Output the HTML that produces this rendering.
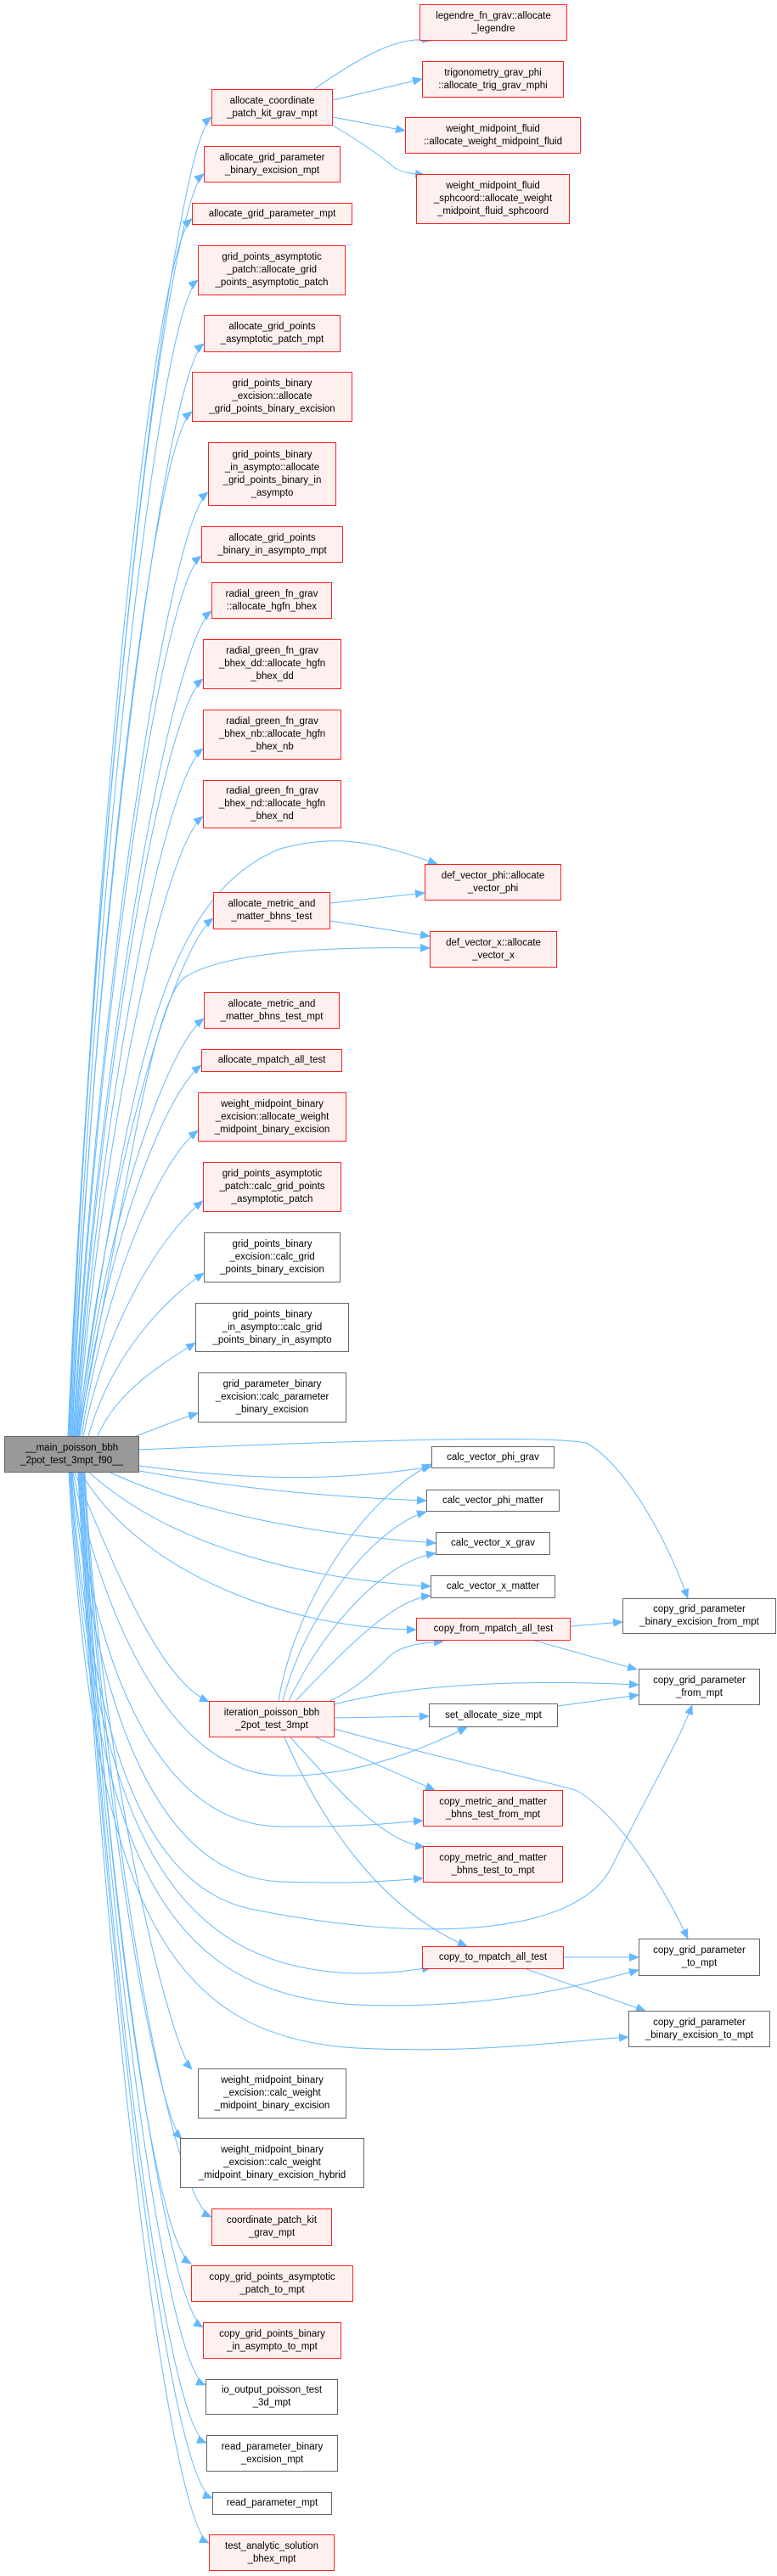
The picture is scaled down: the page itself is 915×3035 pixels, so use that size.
<!DOCTYPE html>
<html><head><meta charset="utf-8"><style>
html,body{margin:0;padding:0;background:#fff;}
#c{position:relative;width:915px;height:3035px;overflow:hidden;}
svg{position:absolute;left:0;top:0;}
.n{position:absolute;box-sizing:border-box;display:flex;align-items:center;justify-content:center;text-align:center;font-family:"Liberation Sans",sans-serif;font-size:11.5px;line-height:15px;color:#000;}
.r{background:#fff0f0;border:1.5px solid #ff2020;}
.w{background:#fff;border:1.5px solid #666;}
.g{background:#999;border:1.5px solid #666;}
</style></head><body><div id="c">
<svg width="915" height="3035" viewBox="0 0 915 3035">
<defs><marker id="a" markerWidth="12" markerHeight="10" refX="11" refY="5" orient="auto" markerUnits="userSpaceOnUse"><path d="M0,0 L12,5 L0,10 Z" fill="#63b8ff"/></marker></defs>
<g fill="none" stroke="#63b8ff" stroke-width="1" marker-end="url(#a)">
<path d="M80,1692 C113.8,915 204,173 249,138"/>
<path d="M81,1692 C112.8,948 195,240 240,205"/>
<path d="M82,1692 C110.8,975 181,293 226,258"/>
<path d="M83,1692 C113,1011 188,365 233,330"/>
<path d="M84,1692 C115,1048 195,440 240,405"/>
<path d="M85,1692 C113,1088 181,520 226,485"/>
<path d="M86,1692 C118,1136 200,615 245,580"/>
<path d="M87,1692 C117,1173 192,690 237,655"/>
<path d="M88,1692 C120,1206 204,755 249,720"/>
<path d="M89,1692 C119,1246 194,835 239,800"/>
<path d="M90,1692 C120,1287 194,917 239,882"/>
<path d="M91,1692 C121,1327 194,997 239,962"/>
<path d="M92,1692 C124,1387 206,1117 251,1082"/>
<path d="M93,1692 C122,1446 195,1235 240,1200"/>
<path d="M94,1692 C123,1473 192,1290 237,1255"/>
<path d="M96,1692 C123,1512 188,1367 233,1332"/>
<path d="M98,1692 C126,1553 194,1450 239,1415"/>
<path d="M104,1692 C131,1596 195,1530 240,1500"/>
<path d="M115,1692 C138,1637 195,1605 230,1582"/>
<path d="M160,1692 C180,1685 210,1672 233,1665"/>
<path d="M100,1735 C118,2085 200,2410 226,2438"/>
<path d="M99,1735 C117,2127 185,2490 214,2520"/>
<path d="M98,1735 C127,2174 200,2590 249,2612"/>
<path d="M97,1735 C122,2200 180,2640 225,2667"/>
<path d="M96,1735 C124,2238 195,2715 239,2742"/>
<path d="M95,1735 C124,2272 195,2790 242,2810"/>
<path d="M94,1735 C124,2306 195,2860 243,2878"/>
<path d="M93,1735 C124,2338 200,2925 250,2943"/>
<path d="M92,1735 C123,2365 200,2975 246,2996"/>
<path d="M370,105 C420,70 470,40 508,48"/>
<path d="M392,118 L497,93"/>
<path d="M392,138 L477,154"/>
<path d="M392,148 C430,170 450,185 465,198 C475,204 490,205 500,206"/>
<path d="M389,1064 L500,1052"/>
<path d="M389,1085 L506,1103"/>
<path d="M90,1692 C150,1300 180,1060 330,1000 C400,980 450,995 515,1018"/>
<path d="M92,1692 C150,1400 180,1170 220,1150 C270,1120 400,1115 506,1117"/>
<path d="M164,1708 C400,1698 640,1690 690,1700 C730,1720 780,1800 810,1883"/>
<path d="M164,1727 C300,1745 400,1745 508,1728"/>
<path d="M164,1733 C300,1757 400,1764 502,1768"/>
<path d="M130,1735 C250,1790 400,1810 513,1818"/>
<path d="M105,1735 C200,1820 350,1860 507,1869"/>
<path d="M95,1735 C170,1860 350,1920 490,1920"/>
<path d="M88,1735 C140,1860 190,1980 246,2005"/>
<path d="M86,1735 C120,1900 200,2090 330,2092 C420,2094 500,2060 550,2035"/>
<path d="M85,1735 C110,1950 180,2150 330,2152 C420,2153 460,2148 498,2145"/>
<path d="M85,1735 C110,2000 180,2210 330,2217 C420,2220 460,2216 498,2213"/>
<path d="M84,1735 C110,2100 190,2230 300,2250 C500,2290 680,2280 720,2200 C770,2100 800,2050 815,2009"/>
<path d="M83,1735 C110,2150 200,2320 420,2325 C460,2325 480,2322 508,2318"/>
<path d="M82,1735 C110,2200 200,2350 420,2362 C580,2368 680,2340 752,2321"/>
<path d="M81,1735 C110,2250 200,2400 420,2413 C560,2420 660,2405 740,2400"/>
<path d="M328,2004 C345,1900 420,1770 508,1725"/>
<path d="M333,2004 C360,1900 440,1800 502,1781"/>
<path d="M340,2004 C380,1920 450,1840 513,1830"/>
<path d="M348,2004 C400,1950 460,1885 507,1880"/>
<path d="M388,2004 C420,1990 440,1970 460,1950 C475,1938 500,1935 522,1934"/>
<path d="M394,2008 C500,1980 650,1980 752,1985"/>
<path d="M394,2024 L505,2022"/>
<path d="M372,2047 L512,2109"/>
<path d="M342,2047 C400,2110 450,2170 500,2176"/>
<path d="M335,2047 C380,2150 450,2250 550,2293"/>
<path d="M394,2037 C550,2080 650,2100 680,2110 C730,2140 780,2220 810,2284"/>
<path d="M672,1916 L733,1911"/>
<path d="M630,1933 L750,1967"/>
<path d="M657,2010 L752,1997"/>
<path d="M664,2306 L752,2306"/>
<path d="M620,2320 L760,2369"/>
</g></svg>

<div class="n r" style="left:494px;top:5px;width:174px;height:43px">legendre_fn_grav::allocate<br>_legendre</div>
<div class="n r" style="left:497px;top:72px;width:167px;height:43px">trigonometry_grav_phi<br>::allocate_trig_grav_mphi</div>
<div class="n r" style="left:477px;top:138px;width:207px;height:43px">weight_midpoint_fluid<br>::allocate_weight_midpoint_fluid</div>
<div class="n r" style="left:490px;top:205px;width:181px;height:59px">weight_midpoint_fluid<br>_sphcoord::allocate_weight<br>_midpoint_fluid_sphcoord</div>
<div class="n r" style="left:249px;top:105px;width:143px;height:43px">allocate_coordinate<br>_patch_kit_grav_mpt</div>
<div class="n r" style="left:240px;top:172px;width:161px;height:43px">allocate_grid_parameter<br>_binary_excision_mpt</div>
<div class="n r" style="left:226px;top:239px;width:189px;height:26px">allocate_grid_parameter_mpt</div>
<div class="n r" style="left:233px;top:289px;width:174px;height:59px">grid_points_asymptotic<br>_patch::allocate_grid<br>_points_asymptotic_patch</div>
<div class="n r" style="left:240px;top:371px;width:161px;height:44px">allocate_grid_points<br>_asymptotic_patch_mpt</div>
<div class="n r" style="left:226px;top:438px;width:189px;height:59px">grid_points_binary<br>_excision::allocate<br>_grid_points_binary_excision</div>
<div class="n r" style="left:245px;top:521px;width:151px;height:75px">grid_points_binary<br>_in_asympto::allocate<br>_grid_points_binary_in<br>_asympto</div>
<div class="n r" style="left:237px;top:620px;width:167px;height:43px">allocate_grid_points<br>_binary_in_asympto_mpt</div>
<div class="n r" style="left:249px;top:686px;width:142px;height:43px">radial_green_fn_grav<br>::allocate_hgfn_bhex</div>
<div class="n r" style="left:239px;top:753px;width:163px;height:59px">radial_green_fn_grav<br>_bhex_dd::allocate_hgfn<br>_bhex_dd</div>
<div class="n r" style="left:239px;top:836px;width:163px;height:59px">radial_green_fn_grav<br>_bhex_nb::allocate_hgfn<br>_bhex_nb</div>
<div class="n r" style="left:239px;top:919px;width:163px;height:57px">radial_green_fn_grav<br>_bhex_nd::allocate_hgfn<br>_bhex_nd</div>
<div class="n r" style="left:500px;top:1018px;width:161px;height:43px">def_vector_phi::allocate<br>_vector_phi</div>
<div class="n r" style="left:251px;top:1051px;width:138px;height:44px">allocate_metric_and<br>_matter_bhns_test</div>
<div class="n r" style="left:506px;top:1097px;width:150px;height:43px">def_vector_x::allocate<br>_vector_x</div>
<div class="n r" style="left:240px;top:1169px;width:160px;height:43px">allocate_metric_and<br>_matter_bhns_test_mpt</div>
<div class="n r" style="left:237px;top:1236px;width:166px;height:27px">allocate_mpatch_all_test</div>
<div class="n r" style="left:233px;top:1287px;width:175px;height:58px">weight_midpoint_binary<br>_excision::allocate_weight<br>_midpoint_binary_excision</div>
<div class="n r" style="left:239px;top:1369px;width:163px;height:59px">grid_points_asymptotic<br>_patch::calc_grid_points<br>_asymptotic_patch</div>
<div class="n w" style="left:240px;top:1452px;width:161px;height:59px">grid_points_binary<br>_excision::calc_grid<br>_points_binary_excision</div>
<div class="n w" style="left:230px;top:1535px;width:181px;height:58px">grid_points_binary<br>_in_asympto::calc_grid<br>_points_binary_in_asympto</div>
<div class="n w" style="left:233px;top:1617px;width:175px;height:59px">grid_parameter_binary<br>_excision::calc_parameter<br>_binary_excision</div>
<div class="n g" style="left:5px;top:1692px;width:159px;height:43px">__main_poisson_bbh<br>_2pot_test_3mpt_f90__</div>
<div class="n w" style="left:508px;top:1704px;width:145px;height:26px">calc_vector_phi_grav</div>
<div class="n w" style="left:502px;top:1755px;width:157px;height:26px">calc_vector_phi_matter</div>
<div class="n w" style="left:513px;top:1805px;width:135px;height:27px">calc_vector_x_grav</div>
<div class="n w" style="left:507px;top:1856px;width:147px;height:27px">calc_vector_x_matter</div>
<div class="n r" style="left:490px;top:1906px;width:182px;height:27px">copy_from_mpatch_all_test</div>
<div class="n w" style="left:733px;top:1883px;width:181px;height:42px">copy_grid_parameter<br>_binary_excision_from_mpt</div>
<div class="n w" style="left:752px;top:1966px;width:143px;height:43px">copy_grid_parameter<br>_from_mpt</div>
<div class="n r" style="left:246px;top:2004px;width:148px;height:43px">iteration_poisson_bbh<br>_2pot_test_3mpt</div>
<div class="n w" style="left:505px;top:2007px;width:152px;height:28px">set_allocate_size_mpt</div>
<div class="n r" style="left:498px;top:2109px;width:165px;height:43px">copy_metric_and_matter<br>_bhns_test_from_mpt</div>
<div class="n r" style="left:498px;top:2175px;width:165px;height:43px">copy_metric_and_matter<br>_bhns_test_to_mpt</div>
<div class="n r" style="left:497px;top:2293px;width:167px;height:27px">copy_to_mpatch_all_test</div>
<div class="n w" style="left:752px;top:2284px;width:143px;height:44px">copy_grid_parameter<br>_to_mpt</div>
<div class="n w" style="left:740px;top:2369px;width:167px;height:43px">copy_grid_parameter<br>_binary_excision_to_mpt</div>
<div class="n w" style="left:233px;top:2437px;width:175px;height:59px">weight_midpoint_binary<br>_excision::calc_weight<br>_midpoint_binary_excision</div>
<div class="n w" style="left:212px;top:2519px;width:217px;height:59px">weight_midpoint_binary<br>_excision::calc_weight<br>_midpoint_binary_excision_hybrid</div>
<div class="n r" style="left:249px;top:2602px;width:142px;height:44px">coordinate_patch_kit<br>_grav_mpt</div>
<div class="n r" style="left:225px;top:2669px;width:191px;height:43px">copy_grid_points_asymptotic<br>_patch_to_mpt</div>
<div class="n r" style="left:239px;top:2736px;width:163px;height:43px">copy_grid_points_binary<br>_in_asympto_to_mpt</div>
<div class="n w" style="left:242px;top:2803px;width:156px;height:42px">io_output_poisson_test<br>_3d_mpt</div>
<div class="n w" style="left:243px;top:2869px;width:155px;height:43px">read_parameter_binary<br>_excision_mpt</div>
<div class="n w" style="left:250px;top:2936px;width:141px;height:27px">read_parameter_mpt</div>
<div class="n r" style="left:246px;top:2986px;width:148px;height:43px">test_analytic_solution<br>_bhex_mpt</div>
</div></body></html>
